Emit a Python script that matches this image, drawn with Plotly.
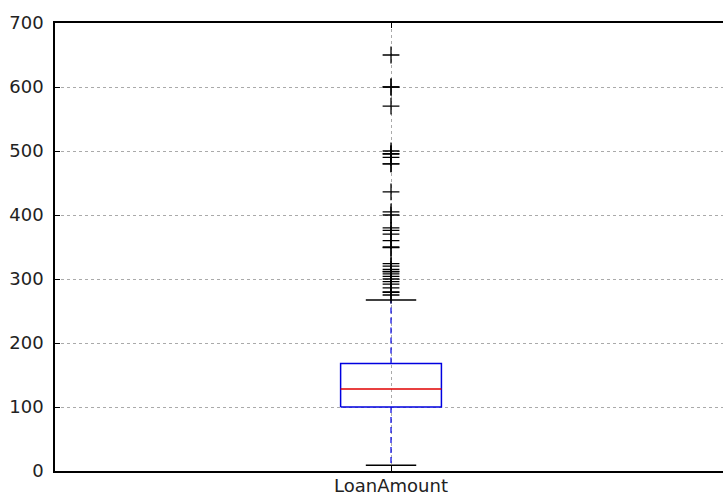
import plotly.graph_objects as go

category = "LoanAmount"
q1 = 100
median = 128
q3 = 168
whisker_low = 9
whisker_high = 267
outliers = [650, 600, 600, 570, 500, 496, 495, 490, 480, 480, 436, 405, 400,
            380, 376, 370, 360, 350, 349, 324, 320, 315, 312, 311, 308, 304,
            300, 296, 292, 286, 280, 279, 275]
y_ticks = [0, 100, 200, 300, 400, 500, 600, 700]

pos = 1.0
bw = 0.15
cw = bw / 2

fig = go.Figure()
# whiskers
fig.add_trace(go.Scatter(x=[pos, pos], y=[q3, whisker_high], mode="lines",
                         line=dict(color="#0000e0", width=1.2, dash="6px,4px"), hoverinfo="skip"))
fig.add_trace(go.Scatter(x=[pos, pos], y=[q1, whisker_low], mode="lines",
                         line=dict(color="#0000e0", width=1.2, dash="6px,4px"), hoverinfo="skip"))
# caps
for v in (whisker_low, whisker_high):
    fig.add_trace(go.Scatter(x=[pos - cw / 2, pos + cw / 2], y=[v, v], mode="lines",
                             line=dict(color="black", width=1.5), hoverinfo="skip"))
# box
fig.add_trace(go.Scatter(x=[pos - bw / 2, pos + bw / 2, pos + bw / 2, pos - bw / 2, pos - bw / 2],
                         y=[q1, q1, q3, q3, q1], mode="lines",
                         line=dict(color="#0000e0", width=1.5), hoverinfo="skip"))
# median
fig.add_trace(go.Scatter(x=[pos - bw / 2, pos + bw / 2], y=[median, median], mode="lines",
                         line=dict(color="#e00000", width=1.5), hoverinfo="skip"))
# outliers
fig.add_trace(go.Scatter(x=[pos] * len(outliers), y=outliers, mode="markers",
                         marker=dict(symbol="cross-thin", size=12,
                                     line=dict(color="black", width=1.3)),
                         hoverinfo="y"))

fig.update_layout(
    width=723, height=495,
    margin=dict(l=55, r=0, t=23, b=24),
    paper_bgcolor="white", plot_bgcolor="white",
    showlegend=False,
    font=dict(family="DejaVu Sans", size=18, color="#222222"),
)
fig.update_xaxes(
    range=[0.5, 1.494], tickvals=[pos], ticktext=[category],
    showline=True, linecolor="black", linewidth=1.5, mirror="ticks",
    ticks="inside", ticklen=5, tickcolor="black",
    showgrid=True, gridcolor="#aaaaaa", griddash="3px,3px", gridwidth=1,
    zeroline=False, automargin=False, ticklabelstandoff=-2,
)
fig.update_yaxes(
    range=[0, 700], tickvals=y_ticks,
    showline=True, linecolor="black", linewidth=1.5,
    ticks="inside", ticklen=5, tickcolor="black",
    showgrid=True, gridcolor="#aaaaaa", griddash="3px,3px", gridwidth=1,
    zeroline=False, ticklabelstandoff=6, automargin=False,
)
fig.write_html("out.html")
